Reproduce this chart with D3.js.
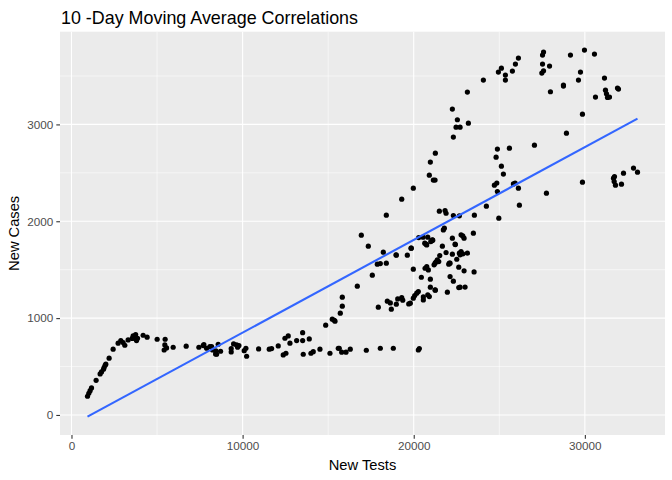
<!DOCTYPE html>
<html>
<head>
<meta charset="utf-8">
<script src="https://cdn.jsdelivr.net/npm/d3@7"></script>
<style>
  body { margin: 0; background: #fff; }
  text { font-family: "Liberation Sans", Arial, sans-serif; }
</style>
</head>
<body>
<script>

// 10-day moving averages
var newTests = [
  936, 1012, 1088, 1170, 1439, 1673, 1754, 1871, 1906, 1965, 2006, 2199, 2433, 2725, 2883, 3018,
  3117, 3310, 3602, 3650, 3702, 3750, 3801, 3860, 3550, 4187, 4421, 5006, 5474, 5456, 5415, 5556,
  5942, 6702, 7444, 7696, 7737, 7895, 8088, 8187, 8246, 8421, 8439, 8480, 8573, 8713, 9333, 9333,
  9474, 9649, 9708, 9784, 10094, 10193, 10234, 10936, 11556, 11696, 12082, 12374, 12532, 12474, 12667, 12766,
  13158, 13509, 13509, 13544, 13895, 13994, 14129, 14520, 14854, 15105, 15398, 15591, 15240, 15357, 15708, 15825,
  15825, 15649, 15789, 16041, 16292, 16702, 16936, 17345, 17579, 17228, 17930, 18047, 18222, 17871, 18047, 18398,
  18456, 18632, 18690, 18807, 18982, 18982, 19064, 19298, 19357, 19626, 19708, 19801, 19860, 19977, 19977, 20058,
  20175, 20269, 20269, 20327, 20292, 20445, 20561, 20544, 20561, 20661, 20719, 20760, 20819, 20819, 20854, 20912,
  20971, 20971, 21053, 21111, 21263, 21187, 21246, 21304, 21380, 21462, 21520, 21673, 21731, 21889, 21965, 22047,
  22123, 22123, 22257, 22257, 22316, 22433, 22515, 22632, 22632, 22667, 19298, 21497, 21830, 21889, 22316, 22667,
  23544, 24246, 24889, 24971, 21789, 20643, 20760, 20994, 21088, 19842, 18965, 22415, 22766, 22942, 23485, 23135,
  22708, 22766, 22865, 22085, 22942, 23526, 23000, 21246, 22550, 22474, 22708, 23193, 22316, 21263, 20971, 20912,
  21146, 21246, 19977, 24889, 24813, 24713, 24854, 22257, 18398, 23135, 24070, 24947, 25123, 25357, 25357, 25766,
  25942, 26117, 25123, 25240, 25591, 25825, 25924, 26117, 26175, 27754, 27053, 28924, 29860, 29860, 27485, 27585,
  27526, 27526, 27585, 27936, 27988, 28749, 28749, 29158, 29626, 29743, 29977, 30561, 31146, 31205, 30620, 31263,
  31322, 31439, 31906, 31965, 31673, 31731, 31713, 31789, 32140, 32257, 32842, 33076, 22865, 22708
];
var newCases = [
  193, 224, 251, 279, 358, 424, 444, 472, 489, 513, 524, 586, 679, 741, 768, 747,
  720, 775, 816, 795, 809, 830, 768, 792, 790, 823, 803, 782, 782, 723, 671, 692,
  699, 710, 699, 716, 726, 689, 706, 706, 671, 630, 661, 627, 730, 658, 685, 651,
  733, 723, 699, 716, 664, 689, 606, 682, 679, 685, 713, 620, 637, 792, 816, 741,
  768, 850, 768, 627, 785, 637, 654, 679, 927, 637, 968, 689, 989, 978, 1051, 1123,
  1216, 689, 648, 648, 679, 1330, 1856, 1743, 1443, 668, 1113, 689, 1681, 1557, 1563, 1567,
  1175, 1157, 1092, 689, 1144, 1650, 1198, 1212, 1185, 1650, 1147, 1154, 1722, 1505, 1206, 1233,
  1257, 1274, 671, 685, 1832, 1422, 1219, 1836, 1188, 1515, 1763, 1532, 1836, 1240, 1498, 1222,
  1402, 1319, 1798, 1805, 1288, 1550, 1567, 1581, 1601, 1584, 1646, 1743, 1911, 1677, 1268, 1557,
  1567, 1429, 1660, 1825, 1381, 1759, 1608, 1526, 1315, 1670, 2228, 2104, 2111, 2083, 2059, 2056,
  2063, 2156, 2307, 2032, 1929, 1774, 1756, 1790, 1808, 1722, 1653, 1763, 1860, 1825, 1877, 1670,
  1653, 1687, 1663, 1567, 1488, 1477, 1320, 1291, 3048, 2972, 2972, 3013, 2869, 2703, 2611, 2476,
  2425, 2425, 2342, 2745, 2662, 2373, 2394, 3158, 2063, 3334, 3458, 3540, 3581, 3509, 3458, 3551,
  3623, 3685, 2569, 2487, 2755, 2386, 2394, 2342, 2166, 2290, 2786, 2910, 3106, 2404, 3530, 3554,
  3623, 3716, 3747, 3602, 3337, 3406, 3396, 3716, 3458, 3540, 3768, 3726, 3478, 3354, 3282, 3316,
  3278, 3282, 3375, 3365, 2445, 2462, 2410, 2373, 2383, 2497, 2549, 2507, 1849, 1319
];

var xTicks = [0, 10000, 20000, 30000];
var yTicks = [0, 1000, 2000, 3000];
var xMinor = [5000, 15000, 25000];
var yMinor = [500, 1500, 2500, 3500];

function main() {

  var width = 672;
  var height = 480;
  var panel = { left: 60, right: 665, top: 31.7, bottom: 435 };

  var svg = d3.select("body")
    .append("svg")
    .attr('width', width)
    .attr('height', height);

  var data = newTests.map(function (d, i) { return { x: d, y: newCases[i] }; });

  // least squares fit, like geom_smooth(method = "lm", se = FALSE)
  var mx = d3.mean(data, function (d) { return d.x; });
  var my = d3.mean(data, function (d) { return d.y; });
  var sxy = d3.sum(data, function (d) { return (d.x - mx) * (d.y - my); });
  var sxx = d3.sum(data, function (d) { return (d.x - mx) * (d.x - mx); });
  var slope = sxy / sxx;
  var intercept = my - slope * mx;
  var xExt = d3.extent(data, function (d) { return d.x; });
  var fit = xExt.map(function (x) { return { x: x, y: intercept + slope * x }; });

  // ggplot style 5% expansion
  var yAll = newCases.concat(fit.map(function (d) { return d.y; }));
  var yExt = d3.extent(yAll);
  var xPad = (xExt[1] - xExt[0]) * 0.05;
  var yPad = (yExt[1] - yExt[0]) * 0.05;

  var x = d3.scaleLinear()
    .domain([xExt[0] - xPad, xExt[1] + xPad])
    .range([panel.left, panel.right]);
  var y = d3.scaleLinear()
    .domain([yExt[0] - yPad, yExt[1] + yPad])
    .range([panel.bottom, panel.top]);

  svg.append('rect')
    .attr('x', panel.left)
    .attr('y', panel.top)
    .attr('width', panel.right - panel.left)
    .attr('height', panel.bottom - panel.top)
    .attr('fill', '#EBEBEB');

  // grid
  var grid = svg.append('g');
  grid.selectAll('.xminor').data(xMinor).enter().append('line')
    .attr('x1', function (d) { return x(d); }).attr('x2', function (d) { return x(d); })
    .attr('y1', panel.top).attr('y2', panel.bottom)
    .attr('stroke', '#fff').attr('stroke-width', 0.55);
  grid.selectAll('.yminor').data(yMinor).enter().append('line')
    .attr('y1', function (d) { return y(d); }).attr('y2', function (d) { return y(d); })
    .attr('x1', panel.left).attr('x2', panel.right)
    .attr('stroke', '#fff').attr('stroke-width', 0.55);
  grid.selectAll('.xmajor').data(xTicks).enter().append('line')
    .attr('x1', function (d) { return x(d); }).attr('x2', function (d) { return x(d); })
    .attr('y1', panel.top).attr('y2', panel.bottom)
    .attr('stroke', '#fff').attr('stroke-width', 1.1);
  grid.selectAll('.ymajor').data(yTicks).enter().append('line')
    .attr('y1', function (d) { return y(d); }).attr('y2', function (d) { return y(d); })
    .attr('x1', panel.left).attr('x2', panel.right)
    .attr('stroke', '#fff').attr('stroke-width', 1.1);

  // points
  svg.append('g').selectAll('circle')
    .data(data)
    .enter().append('circle')
    .attr('cx', function (d) { return x(d.x); })
    .attr('cy', function (d) { return y(d.y); })
    .attr('r', 2.6)
    .attr('fill', '#000');

  // fitted line
  svg.append('path')
    .datum(fit)
    .attr('d', d3.line().x(function (d) { return x(d.x); }).y(function (d) { return y(d.y); }))
    .attr('fill', 'none')
    .attr('stroke', '#3366FF')
    .attr('stroke-width', 2.1);

  // axes
  var xAxis = svg.append('g')
    .attr('transform', 'translate(0,' + panel.bottom + ')')
    .call(d3.axisBottom(x).tickValues(xTicks).tickSize(3.7).tickPadding(3).tickFormat(d3.format('d')));
  var yAxis = svg.append('g')
    .attr('transform', 'translate(' + panel.left + ',0)')
    .call(d3.axisLeft(y).tickValues(yTicks).tickSize(3.7).tickPadding(3).tickFormat(d3.format('d')));

  [xAxis, yAxis].forEach(function (a) {
    a.select('.domain').remove();
    a.selectAll('line').attr('stroke', '#333333').attr('stroke-width', 1.1);
    a.selectAll('text')
      .attr('fill', '#4D4D4D')
      .style('font-size', '11.7px')
      .style('font-family', '"Liberation Sans", Arial, sans-serif');
  });

  svg.append('text')
    .attr('x', (panel.left + panel.right) / 2)
    .attr('y', 470)
    .attr('text-anchor', 'middle')
    .attr('font-size', '14.7px')
    .attr('fill', '#000')
    .text('New Tests');

  svg.append('text')
    .attr('transform', 'translate(19,' + (panel.top + panel.bottom) / 2 + ') rotate(-90)')
    .attr('text-anchor', 'middle')
    .attr('font-size', '14.7px')
    .attr('fill', '#000')
    .text('New Cases');

  svg.append('text')
    .attr('x', panel.left + 1)
    .attr('y', 24)
    .attr('font-size', '17.9px')
    .attr('fill', '#000')
    .text('10 -Day Moving Average Correlations');
}

main();
</script>
</body>
</html>
